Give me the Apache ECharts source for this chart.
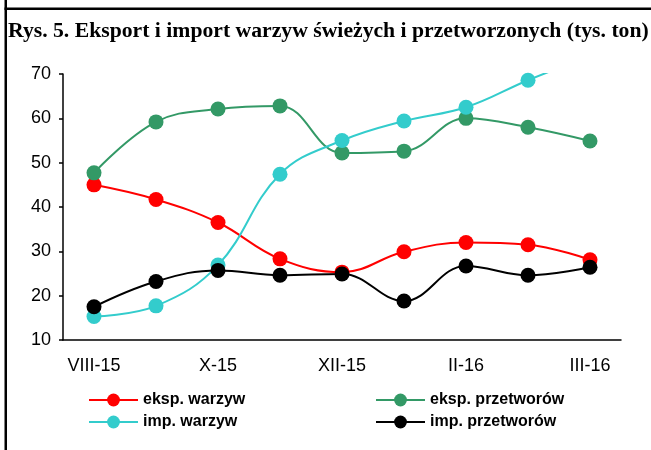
<!DOCTYPE html>
<html>
<head>
<meta charset="utf-8">
<script src="https://cdn.jsdelivr.net/npm/echarts@6/dist/echarts.min.js"></script>
<style>
  html, body { margin: 0; padding: 0; background: #fff; }
  #chart { width: 651px; height: 450px; }
</style>
</head>
<body>
<div id="chart"></div>
<script>
// miesiące (etykiety co drugi punkt)
const categories = ['VIII-15', 'IX-15', 'X-15', 'XI-15', 'XII-15', 'I-16', 'II-16', '', 'III-16']

const eksportWarzyw = [45.0, 41.7, 36.5, 28.3, 25.3, 29.9, 32.0, 31.5, 28.1]
const eksportPrzetworow = [47.7, 59.2, 62.1, 62.8, 52.2, 52.6, 60.0, 58.0, 54.9]
const importWarzyw = [15.3, 17.7, 26.9, 47.4, 55.0, 59.4, 62.5, 68.6, 74.0]
const importPrzetworow = [17.5, 23.2, 25.7, 24.6, 24.9, 18.8, 26.7, 24.6, 26.4]

const seriesNames = ['eksp. warzyw', 'eksp. przetworów', 'imp. warzyw', 'imp. przetworów']
const seriesColors = ['#ff0000', '#339966', '#33cccc', '#000000']
const seriesData = [eksportWarzyw, eksportPrzetworow, importWarzyw, importPrzetworow]

const yTicks = [10, 20, 30, 40, 50, 60, 70]

const sans = '"Liberation Sans", Arial, sans-serif'

const myChart = echarts.init(document.getElementById('chart'), null, { renderer: 'canvas' })

const legendBase = {
  orient: 'vertical',
  top: 392,
  padding: 0,
  itemGap: 6,
  itemWidth: 49,
  itemHeight: 16,
  textStyle: { fontFamily: sans, fontSize: 16, fontWeight: 'bold', color: '#000' },
}

const option = {
  animation: false,
  backgroundColor: '#fff',
  title: {
    text: 'Rys. 5. Eksport i import warzyw świeżych i przetworzonych (tys. ton)',
    left: 8,
    top: 20,
    padding: 0,
    textStyle: {
      fontFamily: '"Liberation Serif", "Times New Roman", serif',
      fontSize: 21.7,
      fontWeight: 'bold',
      color: '#000',
    },
  },
  graphic: [
    { type: 'rect', shape: { x: 4.5, y: 0, width: 2.5, height: 450 }, style: { fill: '#000' } },
    { type: 'rect', shape: { x: 4.5, y: 7.5, width: 647, height: 2.5 }, style: { fill: '#000' } },
  ],
  legend: [
    Object.assign({}, legendBase, { left: 88, data: [seriesNames[0], seriesNames[2]] }),
    Object.assign({}, legendBase, { left: 375, data: [seriesNames[1], seriesNames[3]] }),
  ],
  grid: { left: 63, right: 30, top: 74, bottom: 110, containLabel: false },
  xAxis: {
    type: 'category',
    data: categories,
    boundaryGap: true,
    axisLine: { lineStyle: { color: '#000', width: 1.5 } },
    axisTick: { interval: 1, length: 4, lineStyle: { color: '#000', width: 1.5 } },
    axisLabel: { interval: 1, margin: 17, fontFamily: sans, fontSize: 18, color: '#000' },
    splitLine: { show: false },
  },
  yAxis: {
    type: 'value',
    min: yTicks[0],
    max: yTicks[yTicks.length - 1],
    interval: 10,
    axisLine: { show: true, lineStyle: { color: '#000', width: 1.5 } },
    axisTick: { show: true, length: 4, lineStyle: { color: '#000', width: 1.5 } },
    axisLabel: { margin: 12, fontFamily: sans, fontSize: 18, color: '#000' },
    splitLine: { show: false },
  },
  series: seriesNames.map(function (name, i) {
    return {
      name: name,
      type: 'line',
      data: seriesData[i],
      smooth: 0.4,
      symbol: 'circle',
      symbolSize: 15,
      color: seriesColors[i],
      lineStyle: { width: 2, color: seriesColors[i] },
      itemStyle: { color: seriesColors[i] },
    }
  }),
}

myChart.setOption(option)
window.onresize = function () {
  myChart.resize()
}
</script>
</body>
</html>
